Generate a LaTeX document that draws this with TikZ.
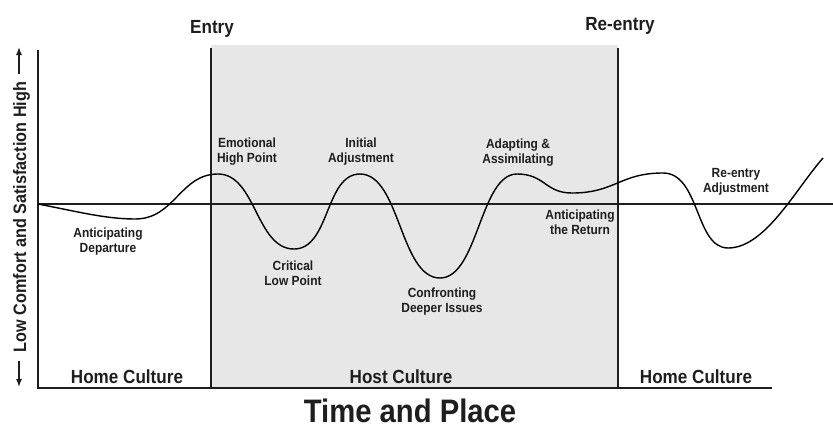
\documentclass[tikz,border=0pt]{standalone}
\usepackage{fontspec}
\setmainfont{Liberation Sans}
\newfontfamily\cond[FakeStretch=0.9]{Liberation Sans}
\usetikzlibrary{arrows.meta}
\definecolor{shadegray}{RGB}{231,231,231}
\definecolor{ink}{RGB}{30,30,30}
\begin{document}
\begin{tikzpicture}[x=1pt,y=-1pt,
  lbl/.style={font=\cond\bfseries\fontsize{13.3}{15}\selectfont, align=center, inner sep=0pt, text=ink},
  big/.style={font=\cond\bfseries\fontsize{19}{22}\selectfont, inner sep=0pt, anchor=base, text=ink},
  axisline/.style={line width=1.8pt, draw=ink},
  curveline/.style={line width=1.4pt, draw=black},
  arr/.style={line width=1.3pt, -{Latex[length=8pt,width=6pt]}, draw=ink}]
\useasboundingbox (0,0) rectangle (833,429);
% shaded host culture band
\fill[shadegray] (211,45) rectangle (618,388);
% axes
\draw[axisline] (38,50) -- (38,388) -- (772,388);
\draw[axisline, line width=1.6pt] (38,204) -- (833,204);
\draw[axisline] (211,48) -- (211,388);
\draw[axisline] (618,48) -- (618,388);
% curve
\draw[curveline] (38,204) .. controls (75,211) and (105,219) .. (135,219)
 .. controls (175,219) and (180,174) .. (218,174)
 .. controls (256,174) and (256,249) .. (294,249)
 .. controls (330,249) and (325,174) .. (360,174)
 .. controls (400,174) and (400,278) .. (440,278)
 .. controls (478,278) and (480,174) .. (517,174)
 .. controls (545,174) and (545,193) .. (572,193)
 .. controls (615,193) and (620,173) .. (663,173)
 .. controls (700,173) and (695,248) .. (728,248)
 .. controls (765,248) and (795,190) .. (823,158);
% headings
\node[big] (entry) at (212,33) {Entry};
\node[big] (reentry) at (620,30) {Re-entry};
\node[big] (home1) at (127,383) {Home Culture};
\node[big] (host) at (401,383) {Host Culture};
\node[big] (home2) at (696,383) {Home Culture};
\node[big, font=\cond\bfseries\fontsize{32.5}{35}\selectfont, text depth=0pt] (title) at (410,422) {Time and Place};
% y axis label
\node[big, font=\cond\bfseries\fontsize{18}{20}\selectfont, rotate=90] (ylab) at (26,217) {Low Comfort and Satisfaction High};
\coordinate (upS) at (19,74);
\coordinate (upT) at (19,47);
\coordinate (dnS) at (19,361);
\coordinate (dnT) at (19,387);
\draw[arr] (upS) -- (upT);
\draw[arr] (dnS) -- (dnT);
% stage labels
\node[lbl] (antdep) at (108,241.5) {Anticipating\\Departure};
\node[lbl] (emo) at (247,152) {Emotional\\High Point};
\node[lbl] (crit) at (293,273.5) {Critical\\Low Point};
\node[lbl] (init) at (361,152) {Initial\\Adjustment};
\node[lbl] (conf) at (442,301.5) {Confronting\\Deeper Issues};
\node[lbl] (adapt) at (518,153) {Adapting \&\\Assimilating};
\node[lbl] (antret) at (580,222) {Anticipating\\the Return};
\node[lbl] (readj) at (736,182) {Re-entry\\Adjustment};
\end{tikzpicture}
\end{document}
